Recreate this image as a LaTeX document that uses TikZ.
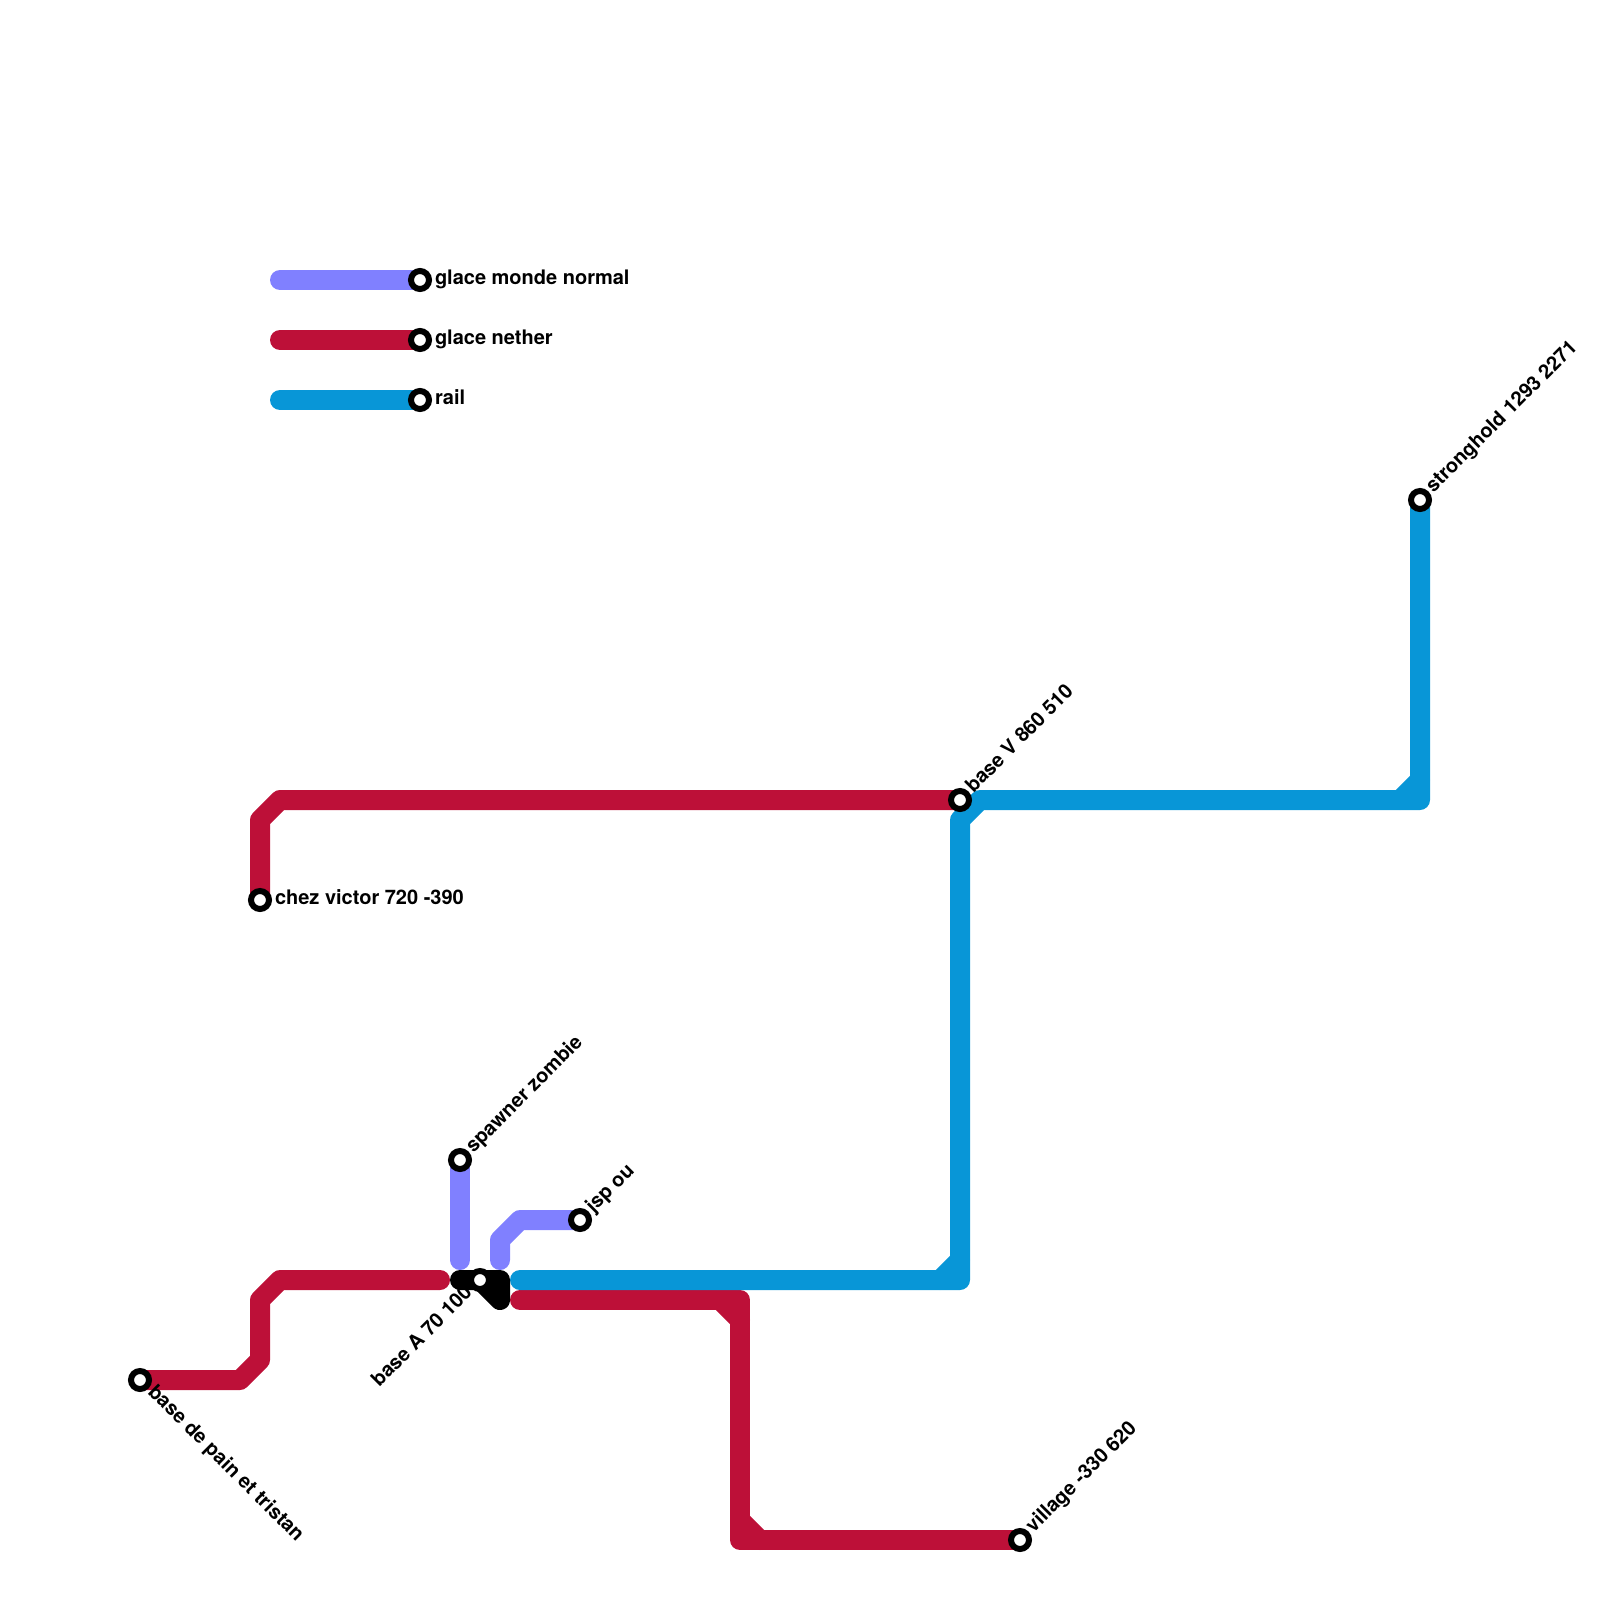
\documentclass[tikz,border=0pt]{standalone}
\usepackage{fontspec}
\setmainfont{TeX Gyre Heros}
\definecolor{cPurple}{HTML}{8080FF}
\definecolor{cRed}{HTML}{BD1038}
\definecolor{cBlue}{HTML}{0896D7}
\tikzset{
  seg/.style={line width=20pt,line cap=round,line join=round},
  stn/.style={circle,draw=black,fill=white,line width=6pt,minimum size=18pt,inner sep=0pt,outer sep=0pt},
  lab/.style={font=\fontsize{20}{20}\selectfont\bfseries,inner sep=0pt,outer sep=0pt,text=black},
}
\begin{document}
\begin{tikzpicture}[x=1pt,y=-1pt]
\useasboundingbox (0,0) rectangle (1600,1600);
% free waypoints
\foreach \n/\x/\y in {
 la/280/280, lb/280/340, lc/280/400,
 r1/260/820, r2/280/800, r3/240/1380, r4/260/1360, r5/260/1300, r6/280/1280, r7/440/1280,
 r8/520/1300, r9/720/1300, r10/740/1300, r11/740/1320, r12/740/1520, r13/740/1540, r14/760/1540,
 p1/460/1260, p2/500/1260, p3/500/1240, p4/520/1220,
 b1/520/1280, b2/940/1280, b3/960/1280, b4/960/1260, b5/960/820, b6/980/800,
 b7/1400/800, b8/1420/800, b9/1420/780,
 k1/460/1280, k2/500/1280, k3/500/1300}
 {\coordinate (\n) at (\x,\y);}
% stations
\coordinate (sA) at (420,280);
\coordinate (sB) at (420,340);
\coordinate (sC) at (420,400);
\coordinate (sVictor) at (260,900);
\coordinate (sPain) at (140,1380);
\coordinate (sSpawner) at (460,1160);
\coordinate (sJsp) at (580,1220);
\coordinate (sBaseA) at (480,1280);
\coordinate (sBaseV) at (960,800);
\coordinate (sVillage) at (1020,1540);
\coordinate (sStronghold) at (1420,500);
% lines
\draw[seg,cPurple] (la) -- (sA);
\draw[seg,cRed] (lb) -- (sB);
\draw[seg,cBlue] (lc) -- (sC);
\draw[seg,cRed] (sVictor) -- (r1) -- (r2) -- (sBaseV);
\draw[seg,cRed] (sPain) -- (r3) -- (r4) -- (r5) -- (r6) -- (r7);
\draw[seg,cRed] (r8) -- (r10) -- (r13) -- (sVillage);
\fill[cRed] (r9) -- (r10) -- (r11) -- cycle;
\fill[cRed] (r12) -- (r13) -- (r14) -- cycle;
\draw[seg,cRed] (r9) -- (r11);
\draw[seg,cRed] (r12) -- (r14);
\draw[seg,cPurple] (sSpawner) -- (p1);
\draw[seg,cPurple] (p2) -- (p3) -- (p4) -- (sJsp);
\draw[seg,cBlue] (b1) -- (b3) -- (b5) -- (b6) -- (b8) -- (sStronghold);
\draw[seg,cBlue] (b2) -- (b4);
\draw[seg,cBlue] (b7) -- (b9);
\draw[seg,black] (k1) -- (k2) -- (k3) -- (sBaseA) -- cycle;
% station markers and labels
\node[stn] (nA) at (sA) {};
\node[stn] (nB) at (sB) {};
\node[stn] (nC) at (sC) {};
\node[stn] (nVictor) at (sVictor) {};
\node[stn] (nPain) at (sPain) {};
\node[stn] (nSpawner) at (sSpawner) {};
\node[stn] (nJsp) at (sJsp) {};
\node[stn] (nBaseA) at (sBaseA) {};
\node[stn] (nBaseV) at (sBaseV) {};
\node[stn] (nVillage) at (sVillage) {};
\node[stn] (nStronghold) at (sStronghold) {};
\node[lab,anchor=base west] (tA) at (435,284.5) {glace monde normal};
\node[lab,anchor=base west] (tB) at (435,344.5) {glace nether};
\node[lab,anchor=base west] (tC) at (435,404.5) {rail};
\node[lab,anchor=base west] (tVictor) at (275,904.5) {chez victor 720 -390};
\node[lab,anchor=base west,rotate=-45] (tPain) at (147,1393) {base de pain et tristan};
\node[lab,anchor=base west,rotate=45] (tSpawner) at (473.5,1153.5) {spawner zombie};
\node[lab,anchor=base west,rotate=45] (tJsp) at (593.5,1213.5) {jsp ou};
\node[lab,anchor=base east,rotate=45] (tBaseA) at (473,1294) {base A 70 100};
\node[lab,anchor=base west,rotate=45] (tBaseV) at (973.5,793.5) {base V 860 510};
\node[lab,anchor=base west,rotate=45] (tVillage) at (1033.5,1533.5) {village -330 620};
\node[lab,anchor=base west,rotate=45] (tStronghold) at (1433.5,493.5) {stronghold 1293 2271};
\end{tikzpicture}
\end{document}
